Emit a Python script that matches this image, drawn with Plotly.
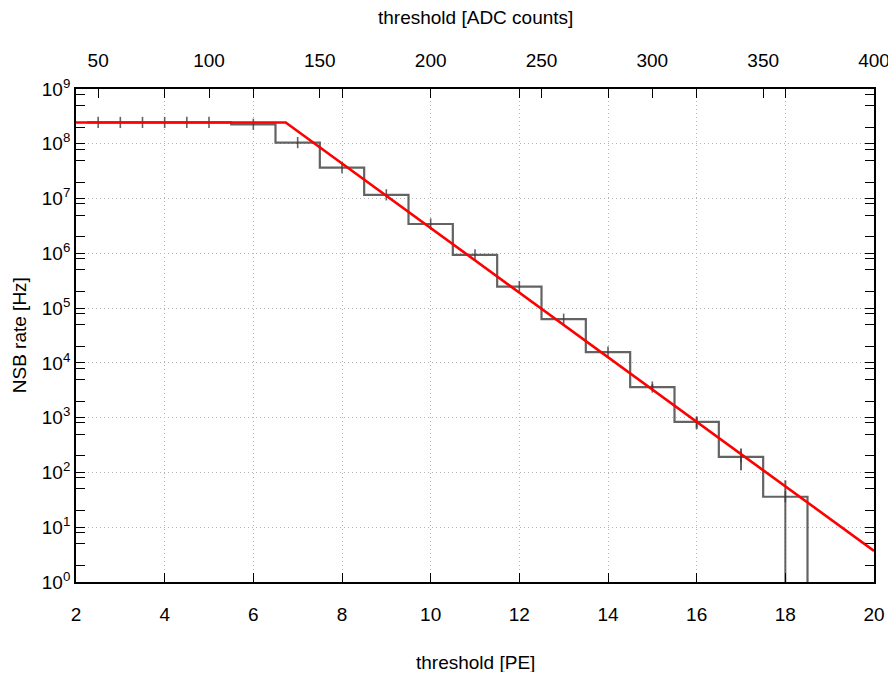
import plotly.graph_objects as go

# ---- data ----
threshold_pe = [2.5, 3.0, 3.5, 4.0, 4.5, 5.0, 6, 7, 8, 9, 10, 11, 12, 13, 14, 15, 16, 17, 18]
nsb_rate = [2.45e8, 2.45e8, 2.45e8, 2.45e8, 2.45e8, 2.45e8, 2.27e8, 1.05e8, 3.68e7,
            1.17e7, 3.43e6, 9.35e5, 2.47e5, 6.28e4, 1.57e4, 3.62e3, 835, 192, 36]
rate_err_plus = [0, 0, 0, 0, 0, 0, 0, 0, 0, 0, 0, 0, 0, 0, 0, 450, 200, 82, 36]
rate_err_minus = [0, 0, 0, 0, 0, 0, 0, 0, 0, 0, 0, 0, 0, 0, 0, 450, 220, 82, 35.999]

fit_pe = [2.0, 6.73, 20.0]
fit_rate = [2.45e8, 2.45e8, 3.7]

x_ticks = [2, 4, 6, 8, 10, 12, 14, 16, 18, 20]
adc_ticks = [50, 100, 150, 200, 250, 300, 350, 400]
adc_per_pe = 20
y_decades = list(range(0, 10))

# ---- histogram steps (gnuplot "histeps") built from the data ----
edges = []
n = len(threshold_pe)
for i in range(n):
    if i == 0:
        left = threshold_pe[0] - (threshold_pe[1] - threshold_pe[0]) / 2
    else:
        left = (threshold_pe[i - 1] + threshold_pe[i]) / 2
    if i == n - 1:
        right = threshold_pe[-1] + (threshold_pe[-1] - threshold_pe[-2]) / 2
    else:
        right = (threshold_pe[i] + threshold_pe[i + 1]) / 2
    edges.append((left, right))
step_x, step_y = [], []
for (l, r), v in zip(edges, nsb_rate):
    step_x += [l, r]
    step_y += [v, v]
step_x.append(edges[-1][1])
step_y.append(1e-3)  # drop to zero at the end

GREY = "rgba(60,60,60,0.8)"
FONT = "Liberation Sans, Arial, sans-serif"
GRID = "#b4b4b4"

fig = go.Figure()
fig.add_trace(go.Scatter(x=step_x, y=step_y, mode="lines",
                         line=dict(color=GREY, width=2.2), showlegend=False,
                         hoverinfo="skip"))
fig.add_trace(go.Scatter(x=threshold_pe, y=nsb_rate, mode="markers",
                         marker=dict(symbol="line-ns", size=8,
                                     line=dict(color=GREY, width=1.6)),
                         error_y=dict(type="data", array=rate_err_plus,
                                      arrayminus=rate_err_minus, symmetric=False,
                                      color=GREY, thickness=2, width=0),
                         showlegend=False))
fig.add_trace(go.Scatter(x=fit_pe, y=fit_rate, mode="lines",
                         line=dict(color="#ff0000", width=2.6), showlegend=False))
# invisible trace to activate the top axis
fig.add_trace(go.Scatter(x=[adc_ticks[0]], y=[nsb_rate[0]], xaxis="x2",
                         mode="markers", marker=dict(opacity=0), showlegend=False,
                         hoverinfo="skip"))

minor_y = [m * 10 ** d for d in range(0, 9) for m in (2, 5, 8)]

fig.update_layout(
    width=888, height=664,
    margin=dict(l=68, r=22, t=81, b=90),
    paper_bgcolor="white", plot_bgcolor="white",
    font=dict(family=FONT, size=19, color="black"),
    xaxis=dict(range=[2, 20], tickvals=x_ticks, ticks="inside", ticklen=9,
               tickwidth=1.3, tickcolor="black", automargin=False,
               ticklabeloverflow="allow",
               showline=True, linecolor="black", linewidth=1.8, mirror="allticks",
               showgrid=True, gridcolor=GRID, griddash="1px,3px", gridwidth=1,
               zeroline=False, ticklabelstandoff=14),
    xaxis2=dict(overlaying="x", side="top", range=[2 * adc_per_pe, 20 * adc_per_pe],
                tickvals=adc_ticks, ticks="inside", ticklen=9, tickwidth=1.3,
                tickcolor="black", showgrid=False, showline=False, zeroline=False,
                automargin=False, ticklabeloverflow="allow", ticklabelstandoff=17),
    yaxis=dict(type="log", range=[0, 9], tickvals=[10 ** d for d in y_decades],
               ticktext=[f"10<sup>{d}</sup>" for d in y_decades],
               ticks="inside", ticklen=9, tickwidth=1.3, tickcolor="black",
               minor=dict(tickvals=minor_y, ticks="inside", ticklen=5,
                          tickwidth=1.3, tickcolor="black", showgrid=False),
               showline=True, linecolor="black", linewidth=1.8, mirror="allticks",
               showgrid=True, gridcolor=GRID, griddash="1px,3px", gridwidth=1,
               zeroline=False, automargin=False, ticklabeloverflow="allow",
               ticklabelstandoff=0),
    annotations=[
        dict(text="threshold [PE]", xref="paper", yref="paper", x=0.5, y=-0.164,
             showarrow=False, xanchor="center", yanchor="middle"),
        dict(text="threshold [ADC counts]", xref="paper", yref="paper", x=0.5,
             y=1.146, showarrow=False, xanchor="center", yanchor="middle"),
        dict(text="NSB rate [Hz]", xref="paper", yref="paper", x=-0.0705, y=0.5,
             textangle=-90, showarrow=False, xanchor="center", yanchor="middle"),
    ],
)

fig.write_html("out.html")
